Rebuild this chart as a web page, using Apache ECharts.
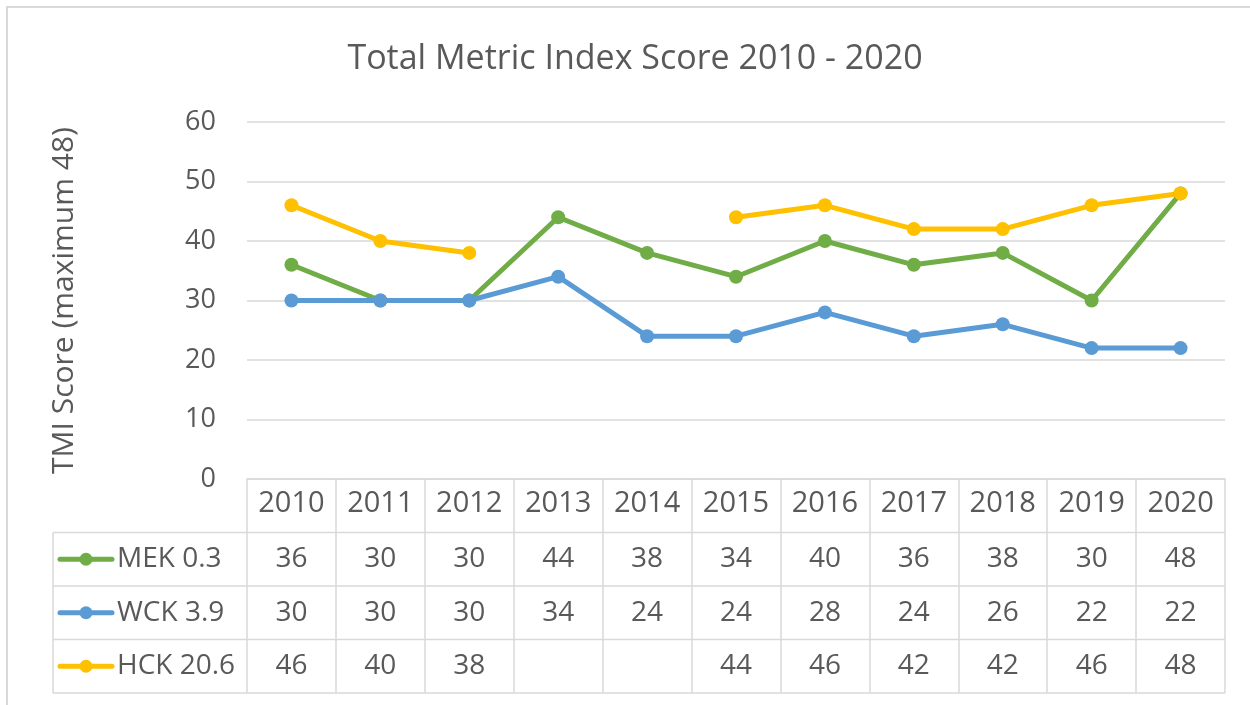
<!DOCTYPE html>
<html>
<head>
<meta charset="utf-8">
<script src="https://cdn.jsdelivr.net/npm/echarts@6/dist/echarts.min.js"></script>
<style>
  html, body { margin: 0; padding: 0; background: #fff; }
  #main { width: 1250px; height: 705px; }
</style>
</head>
<body>
<div id="main"></div>
<script>
// data
const years = ['2010', '2011', '2012', '2013', '2014', '2015', '2016', '2017', '2018', '2019', '2020'];
const mek = [36, 30, 30, 44, 38, 34, 40, 36, 38, 30, 48];
const wck = [30, 30, 30, 34, 24, 24, 28, 24, 26, 22, 22];
const hck = [46, 40, 38, null, null, 44, 46, 42, 42, 46, 48];
const seriesNames = ['MEK 0.3', 'WCK 3.9', 'HCK 20.6'];
const seriesColors = ['#70AD47', '#5B9BD5', '#FFC000'];

const FONT = '"Open Sans", "DejaVu Sans", sans-serif';
const TXT = '#595959';
const LINE = '#d9d9d9';
const ROW_H = 53.5;
const CELL_FS = 28;

const chart = echarts.init(document.getElementById('main'));

function makeSeries(name, data, color) {
    return {
        name: name,
        type: 'line',
        data: data,
        connectNulls: false,
        symbol: 'circle',
        symbolSize: 14,
        lineStyle: { width: 5, color: color },
        itemStyle: { color: color },
        emphasis: { disabled: true }
    };
}

let option = {
    backgroundColor: '#fff',
    animation: false,
    title: {
        text: 'Total Metric Index Score 2010 - 2020',
        left: 630,
        textAlign: 'center',
        top: 37,
        textStyle: { fontFamily: FONT, fontSize: 34, fontWeight: 'normal', color: TXT }
    },
    grid: { left: 247, right: 25, top: 122, bottom: 226 },
    xAxis: {
        type: 'category',
        data: years,
        boundaryGap: true,
        axisLine: { lineStyle: { color: LINE, width: 1.5 } },
        axisTick: { show: true, length: ROW_H * 4, lineStyle: { color: LINE, width: 1.5 } },
        axisLabel: { fontFamily: FONT, fontSize: 29, color: TXT, margin: 10 }
    },
    yAxis: {
        type: 'value',
        min: 0,
        max: 60,
        interval: 10,
        name: 'TMI Score (maximum 48)',
        nameLocation: 'middle',
        nameRotate: 90,
        nameGap: 168,
        nameTextStyle: { fontFamily: FONT, fontSize: 30, color: TXT },
        axisLine: { show: false },
        axisTick: { show: false },
        axisLabel: { fontFamily: FONT, fontSize: 27, color: TXT, margin: 31 },
        splitLine: { lineStyle: { color: LINE, width: 1.5 } }
    },
    series: [
        makeSeries(seriesNames[0], mek, seriesColors[0]),
        makeSeries(seriesNames[1], wck, seriesColors[1]),
        makeSeries(seriesNames[2], hck, seriesColors[2])
    ]
};
chart.setOption(option);

// data table under the axis, placed from the axis scales
const rows = [mek, wck, hck];
const xs = years.map(function (y, i) { return chart.convertToPixel({ xAxisIndex: 0 }, i); });
const bw = xs[1] - xs[0];
const tableRight = xs[xs.length - 1] + bw / 2;
const yZero = chart.convertToPixel({ yAxisIndex: 0 }, 0);
const tableLeft = 53;

let elems = [];
// outer chart border
elems.push({
    type: 'rect', z: -1,
    shape: { x: 7, y: 7, width: 1300, height: 760 },
    style: { fill: null, stroke: LINE, lineWidth: 2 }
});
for (let r = 0; r < rows.length; r++) {
    let top = yZero + ROW_H * (r + 1);
    let mid = top + ROW_H / 2;
    elems.push({
        type: 'line',
        shape: { x1: tableLeft, y1: top, x2: tableRight, y2: top },
        style: { stroke: LINE, lineWidth: 1.5 }
    });
    // legend key
    elems.push({
        type: 'line',
        shape: { x1: 60, y1: mid, x2: 112, y2: mid },
        style: { stroke: seriesColors[r], lineWidth: 5, lineCap: 'round' }
    });
    elems.push({
        type: 'circle',
        shape: { cx: 86, cy: mid, r: 6.5 },
        style: { fill: seriesColors[r] }
    });
    elems.push({
        type: 'text',
        style: {
            text: seriesNames[r], x: 117, y: mid,
            textAlign: 'left', textVerticalAlign: 'middle',
            align: 'left', verticalAlign: 'middle',
            font: CELL_FS + 'px ' + FONT, fill: TXT
        }
    });
    for (let i = 0; i < years.length; i++) {
        let v = rows[r][i];
        if (v === null) continue;
        elems.push({
            type: 'text',
            style: {
                text: String(v), x: xs[i], y: mid,
                textAlign: 'center', textVerticalAlign: 'middle',
                align: 'center', verticalAlign: 'middle',
                font: CELL_FS + 'px ' + FONT, fill: TXT
            }
        });
    }
}
let bottom = yZero + ROW_H * 4;
elems.push({
    type: 'line',
    shape: { x1: tableLeft, y1: bottom, x2: tableRight, y2: bottom },
    style: { stroke: LINE, lineWidth: 1.5 }
});
elems.push({
    type: 'line',
    shape: { x1: tableLeft, y1: yZero + ROW_H, x2: tableLeft, y2: bottom },
    style: { stroke: LINE, lineWidth: 1.5 }
});

chart.setOption({ graphic: elems });
</script>
</body>
</html>
